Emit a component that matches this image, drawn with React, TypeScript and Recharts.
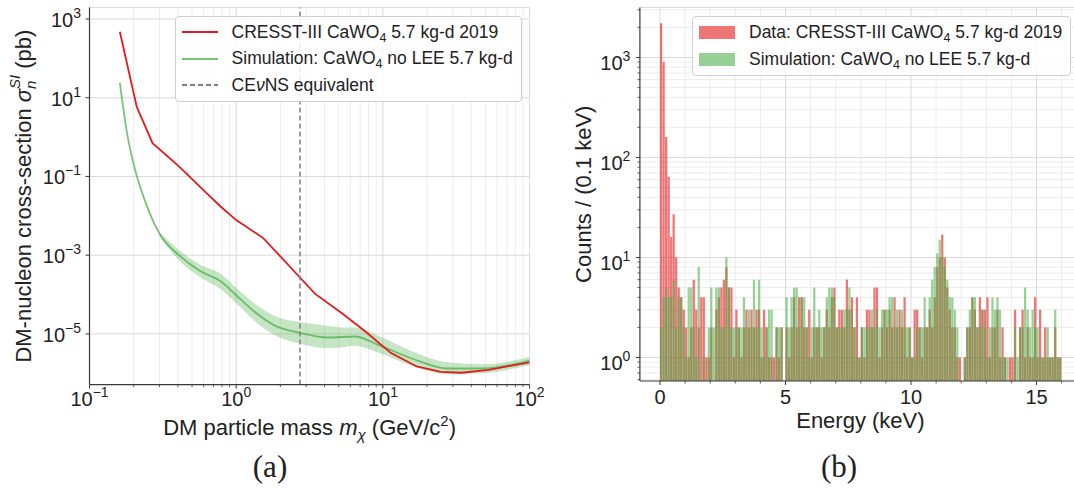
import {
  Area,
  Bar,
  CartesianGrid,
  ComposedChart,
  Label,
  Legend,
  Line,
  ReferenceLine,
  XAxis,
  YAxis,
} from "recharts";

const FONT = "'Liberation Sans', Arial, Helvetica, sans-serif";
const INK = "#222";
const SPINE = "#3a3a3a";
const GRID_MAJOR = "#dadada";
const GRID_MINOR = "#ececec";
const RED = "#e41a1c";
const GREEN = "#4daf4a";

// ---------- (a) exclusion limits ----------
const cresstMass = [0.161, 0.21, 0.269, 0.407, 0.628, 0.779, 1.0, 1.53, 2.73, 3.45, 5.18, 7.56, 11.3, 17.0, 24.8, 34.3, 52.8, 100];
const cresstSigma = [475, 5.85, 0.7, 0.18, 0.0376, 0.0175, 0.0078, 0.00272, 2.67e-4, 1.04e-4, 3.5e-5, 1.17e-5, 3.3e-6, 1.49e-6, 1.08e-6, 1.03e-6, 1.22e-6, 1.9e-6];

const simMass = [0.161, 0.181, 0.207, 0.238, 0.303, 0.407, 0.564, 0.78, 1.02, 1.34, 1.85, 2.73, 4.17, 6.42, 9.38, 16.1, 27.6, 47.4, 100];
const simSigma = [24, 1.16, 0.126, 0.025, 0.0033, 1.0e-3, 4.0e-4, 2.2e-4, 8.9e-5, 3.6e-5, 1.6e-5, 1.06e-5, 8.1e-6, 8.6e-6, 5.2e-6, 2.3e-6, 1.32e-6, 1.32e-6, 2.1e-6];

const bandMass = [0.303, 0.407, 0.564, 0.78, 1.02, 1.34, 1.85, 2.73, 4.17, 5.2, 6.42, 9.38, 16.1, 27.6, 47.4, 100];
const bandLow = [3.0e-3, 7.4e-4, 2.8e-4, 1.4e-4, 5.6e-5, 2.1e-5, 9.1e-6, 5.6e-6, 4.3e-6, 4.5e-6, 5.0e-6, 3.3e-6, 1.5e-6, 9.4e-7, 1.0e-6, 1.6e-6];
const bandHigh = [3.7e-3, 1.35e-3, 5.8e-4, 3.4e-4, 1.38e-4, 5.9e-5, 2.8e-5, 2.0e-5, 1.6e-5, 1.45e-5, 1.45e-5, 8.8e-6, 3.5e-6, 1.9e-6, 1.7e-6, 2.6e-6];

const cevnsMass = 2.72;

const massDomain = [0.1, 100];
const massTicksMajor = [0.1, 1, 10, 100];
const massTicksMinor = [0.2, 0.3, 0.4, 0.5, 0.6, 0.7, 0.8, 0.9, 2, 3, 4, 5, 6, 7, 8, 9, 20, 30, 40, 50, 60, 70, 80, 90];
const sigmaDomain = [5.15e-7, 1950];
const sigmaTicks = [1e-5, 1e-3, 1e-1, 1e1, 1e3];

// ---------- (b) energy spectrum, 0.1 keV bins from 0 to 16 keV ----------
const binWidth = 0.1;
const countsData = [
  2200, 900, 160, 64, 16, 27, 10, 5, 4, 3,
  2, 1, 2, 6, 3, 2, 4, 4, 1, 1,
  2, 0, 3, 4, 5, 6, 8, 5, 5, 1,
  3, 2, 1, 2, 3, 2, 3, 2, 3, 3,
  1, 3, 2, 1, 1, 1, 2, 1, 2, 0,
  2, 1, 2, 4, 2, 4, 4, 2, 2, 3,
  1, 2, 2, 2, 1, 2, 3, 2, 4, 5,
  2, 3, 3, 2, 6, 3, 4, 2, 4, 1,
  2, 1, 3, 3, 2, 5, 5, 1, 2, 3,
  2, 3, 2, 4, 2, 3, 2, 4, 1, 2,
  1, 3, 3, 2, 1, 2, 2, 3, 2, 4,
  8, 10, 17, 10, 5, 3, 2, 2, 1, 1,
  0, 1, 2, 2, 4, 3, 2, 4, 3, 3,
  4, 1, 2, 2, 3, 1, 2, 1, 0, 1,
  1, 3, 0, 2, 3, 1, 2, 1, 1, 4,
  1, 3, 1, 2, 1, 1, 1, 2, 1, 1,
];
const countsSim = [
  2, 4, 5, 4, 4, 6, 2, 4, 4, 2,
  1, 5, 5, 2, 1, 8, 0, 1, 0, 2,
  5, 2, 5, 5, 2, 2, 10, 5, 2, 2,
  2, 2, 2, 4, 2, 3, 2, 6, 2, 6,
  2, 1, 2, 3, 3, 0, 2, 2, 2, 0,
  4, 2, 4, 5, 5, 2, 4, 4, 2, 1,
  2, 5, 2, 3, 2, 2, 4, 5, 5, 4,
  2, 2, 2, 3, 3, 5, 3, 2, 1, 1,
  2, 2, 2, 2, 3, 2, 3, 2, 3, 3,
  3, 4, 4, 2, 3, 2, 3, 2, 2, 2,
  1, 1, 2, 2, 2, 4, 2, 4, 6, 8,
  11, 15, 10, 8, 6, 4, 4, 3, 2, 0,
  0, 1, 2, 3, 4, 4, 2, 2, 3, 2,
  1, 2, 4, 3, 4, 3, 1, 1, 1, 0,
  0, 2, 1, 2, 2, 5, 3, 2, 3, 2,
  2, 1, 1, 1, 2, 1, 1, 3, 1, 1,
];

const energyDomain = [-0.8, 16.8];
const energyTicksMajor = [0, 5, 10, 15];
const energyTicksMinor = [1, 2, 3, 4, 6, 7, 8, 9, 11, 12, 13, 14, 16];
const countDomain = [0.582, 3160];
const countTicksMajor = [1, 10, 100, 1000];
const countTicksMinor = [0.6, 0.7, 0.8, 0.9, 2, 3, 4, 5, 6, 7, 8, 9, 20, 30, 40, 50, 60, 70, 80, 90, 200, 300, 400, 500, 600, 700, 800, 900, 2000, 3000];

// ---------- helpers ----------
const isIn = (list: number[], v: number) => list.some((m) => Math.abs(m - v) <= Math.abs(m) * 1e-9);
const expText = (v: number) => {
  const e = Math.round(Math.log10(v));
  return e < 0 ? "\u2212" + Math.abs(e) : String(e);
};

function PowTen({ x, y, value, anchor }: { x: number; y: number; value: number; anchor: "middle" | "end" }) {
  return (
    <text x={x} y={y} textAnchor={anchor} fontFamily={FONT} fontSize={20} fill={INK}>
      <tspan>10</tspan>
      <tspan dy={-9} fontSize={14}>
        {expText(value)}
      </tspan>
    </text>
  );
}

function makeBottomTick(majors: number[], logLabels: boolean, labelDy: number) {
  return function BottomTick({ x, y, payload }: any) {
    const v = Number(payload?.value);
    const major = isIn(majors, v);
    return (
      <g>
        <line x1={x} x2={x} y1={y} y2={y + (major ? 4 : 2.5)} stroke={SPINE} strokeWidth={major ? 1 : 0.8} />
        {major &&
          (logLabels ? (
            <PowTen x={x} y={y + labelDy} value={v} anchor="middle" />
          ) : (
            <text x={x} y={y + labelDy} textAnchor="middle" fontFamily={FONT} fontSize={20} fill={INK}>
              {v}
            </text>
          ))}
      </g>
    );
  };
}

function makeLeftTick(majors: number[], gap: number, labelDy: number) {
  return function LeftTick({ x, y, payload }: any) {
    const v = Number(payload?.value);
    const major = isIn(majors, v);
    return (
      <g>
        <line x1={x} x2={x - (major ? 4 : 2.5)} y1={y} y2={y} stroke={SPINE} strokeWidth={major ? 1 : 0.8} />
        {major && <PowTen x={x - gap} y={y + labelDy} value={v} anchor="end" />}
      </g>
    );
  };
}

type LegendRow = { key: string; swatch: (k: string) => any; text: any };

function makeLegend(rows: LegendRow[], rowHeight: number) {
  return function ChartLegend() {
    return (
      <div
        style={{
          border: "1px solid #cfcfcf",
          borderRadius: 4,
          background: "rgba(255,255,255,0.85)",
          padding: "2px 8px 2px 6px",
          fontFamily: FONT,
          fontSize: 17.5,
          color: INK,
          whiteSpace: "nowrap",
        }}
      >
        {rows.map((r) => (
          <div key={r.key} style={{ display: "flex", alignItems: "center", height: rowHeight }}>
            {r.swatch(r.key)}
            <span style={{ marginLeft: 14 }}>{r.text}</span>
          </div>
        ))}
      </div>
    );
  };
}

const Sub4 = () => <span style={{ fontSize: 12.5, position: "relative", top: 4 }}>4</span>;

const lineSwatch = (color: string, opacity: number, dash?: string) => () =>
  (
    <svg width={36} height={10}>
      <line x1={0} x2={36} y1={5} y2={5} stroke={color} strokeOpacity={opacity} strokeWidth={1.8} strokeDasharray={dash} />
    </svg>
  );

const patchSwatch = (color: string, opacity: number) => () =>
  <div style={{ width: 36, height: 13, background: color, opacity }} />;

// ---------- (a) ----------
const A_W = 560;
const A_H = 450;
const A_PLOT = { left: 89.5, top: 7.6, right: 529.6, bottom: 384.6 };
const TITLE_SIZE = 22;

function LimitChart() {
  const cresstRows = cresstMass.map((m, i) => ({ m, v: cresstSigma[i] }));
  const simRows = simMass.map((m, i) => ({ m, v: simSigma[i] }));
  const bandRows = bandMass.map((m, i) => ({ m, band: [bandLow[i], bandHigh[i]] }));

  const legend = makeLegend(
    [
      {
        key: "cresst",
        swatch: lineSwatch(RED, 1),
        text: (
          <>
            CRESST-III CaWO<Sub4 /> 5.7 kg-d 2019
          </>
        ),
      },
      {
        key: "sim",
        swatch: lineSwatch(GREEN, 0.75),
        text: (
          <>
            Simulation: CaWO<Sub4 /> no LEE 5.7 kg-d
          </>
        ),
      },
      {
        key: "cevns",
        swatch: lineSwatch("#7f7f7f", 1, "5 3"),
        text: (
          <>
            CE<i>ν</i>NS equivalent
          </>
        ),
      },
    ],
    26.5
  );

  const yTitle = ({ viewBox }: any) => {
    const cx = viewBox.x + 31;
    const cy = viewBox.y + viewBox.height / 2;
    return (
      <text x={cx} y={cy} transform={`rotate(-90, ${cx}, ${cy})`} textAnchor="middle" fontFamily={FONT} fontSize={TITLE_SIZE} fill={INK}>
        DM-nucleon cross-section <tspan fontStyle="italic">σ</tspan>
        <tspan fontStyle="italic" fontSize={15} dy={5}>n</tspan>
        <tspan fontStyle="italic" fontSize={15} dx={-8.5} dy={-15.5}>SI</tspan>
        <tspan dy={10.5}> (pb)</tspan>
      </text>
    );
  };

  const xTitle = ({ viewBox }: any) => (
    <text x={viewBox.x + viewBox.width / 2} y={A_PLOT.bottom + 50} textAnchor="middle" fontFamily={FONT} fontSize={TITLE_SIZE} fill={INK}>
      DM particle mass <tspan fontStyle="italic">m</tspan>
      <tspan fontStyle="italic" fontSize={15} dy={5}>χ</tspan>
      <tspan dy={-5}> (GeV/c</tspan>
      <tspan fontSize={15} dy={-9}>2</tspan>
      <tspan dy={9}>)</tspan>
    </text>
  );

  return (
    <ComposedChart
      width={A_W}
      height={A_H}
      margin={{ top: A_PLOT.top, right: A_W - A_PLOT.right, bottom: 0, left: 0 }}
    >
      <CartesianGrid horizontal={false} verticalValues={massTicksMinor} stroke={GRID_MINOR} />
      <CartesianGrid
        horizontalValues={[...sigmaTicks, sigmaDomain[1]]}
        verticalValues={massTicksMajor}
        stroke={GRID_MAJOR}
      />
      <XAxis
        type="number"
        dataKey="m"
        scale="log"
        domain={massDomain}
        allowDataOverflow
        ticks={[...massTicksMajor, ...massTicksMinor]}
        interval={0}
        tick={makeBottomTick(massTicksMajor, true, 21)}
        tickLine={false}
        tickSize={0}
        tickMargin={0}
        height={A_H - A_PLOT.bottom}
        axisLine={{ stroke: SPINE, strokeWidth: 1.2 }}
      >
        <Label content={xTitle} />
      </XAxis>
      <YAxis
        type="number"
        scale="log"
        domain={sigmaDomain}
        allowDataOverflow
        ticks={sigmaTicks}
        interval={0}
        tick={makeLeftTick(sigmaTicks, 8.5, 8)}
        tickLine={false}
        tickSize={0}
        tickMargin={0}
        width={A_PLOT.left}
        axisLine={{ stroke: SPINE, strokeWidth: 1.2 }}
      >
        <Label content={yTitle} />
      </YAxis>
      <Area
        data={bandRows}
        dataKey="band"
        type="monotone"
        fill={GREEN}
        fillOpacity={0.32}
        stroke="none"
        legendType="none"
        isAnimationActive={false}
      />
      <Line data={simRows} dataKey="v" type="monotone" stroke={GREEN} strokeOpacity={0.75} strokeWidth={1.8} dot={false} isAnimationActive={false} />
      <Line data={cresstRows} dataKey="v" type="linear" stroke={RED} strokeWidth={1.8} dot={false} isAnimationActive={false} />
      <ReferenceLine x={cevnsMass} stroke="#7f7f7f" strokeDasharray="5 3" strokeWidth={1.5} />
      <Legend
        content={legend}
        layout="horizontal"
        verticalAlign="middle"
        align="center"
        wrapperStyle={{ left: 174.6, top: 16, width: "auto", height: "auto" }}
      />
    </ComposedChart>
  );
}

// ---------- (b) ----------
const B_X = 540;
const B_W = 560;
const B_H = 450;
const B_PLOT = { left: 99.9, top: 7.5, right: 541.7, bottom: 381 };

function SpectrumChart() {
  const rows = countsData.map((c, i) => ({
    e: (i + 0.5) * binWidth,
    data: c > 0 ? c : null,
    sim: countsSim[i] > 0 ? countsSim[i] : null,
  }));
  const plotWidth = B_PLOT.right - B_PLOT.left;
  const barWidth = (plotWidth * binWidth) / (energyDomain[1] - energyDomain[0]);

  const legend = makeLegend(
    [
      {
        key: "data",
        swatch: patchSwatch(RED, 0.6),
        text: (
          <>
            Data: CRESST-III CaWO<Sub4 /> 5.7 kg-d 2019
          </>
        ),
      },
      {
        key: "sim",
        swatch: patchSwatch(GREEN, 0.58),
        text: (
          <>
            Simulation: CaWO<Sub4 /> no LEE 5.7 kg-d
          </>
        ),
      },
    ],
    27
  );

  const yTitle = ({ viewBox }: any) => {
    const cx = viewBox.x + 51;
    const cy = viewBox.y + viewBox.height / 2;
    return (
      <text x={cx} y={cy} transform={`rotate(-90, ${cx}, ${cy})`} textAnchor="middle" fontFamily={FONT} fontSize={TITLE_SIZE} fill={INK}>
        Counts / (0.1 keV)
      </text>
    );
  };

  const xTitle = ({ viewBox }: any) => (
    <text x={viewBox.x + 220.5} y={B_PLOT.bottom + 46.5} textAnchor="middle" fontFamily={FONT} fontSize={TITLE_SIZE} fill={INK}>
      Energy (keV)
    </text>
  );

  return (
    <ComposedChart
      width={B_W}
      height={B_H}
      data={rows}
      barCategoryGap={0}
      barGap={0}
      margin={{ top: B_PLOT.top, right: B_W - B_PLOT.right, bottom: 0, left: 0 }}
    >
      <CartesianGrid horizontalValues={countTicksMinor} verticalValues={energyTicksMinor} stroke={GRID_MINOR} />
      <CartesianGrid
        horizontalValues={[...countTicksMajor, countDomain[1]]}
        verticalValues={energyTicksMajor}
        stroke={GRID_MAJOR}
      />
      <XAxis
        type="number"
        dataKey="e"
        domain={energyDomain}
        allowDataOverflow
        ticks={[...energyTicksMajor, ...energyTicksMinor]}
        interval={0}
        tick={makeBottomTick(energyTicksMajor, false, 22.5)}
        tickLine={false}
        tickSize={0}
        tickMargin={0}
        height={B_H - B_PLOT.bottom}
        axisLine={{ stroke: SPINE, strokeWidth: 1.2 }}
      >
        <Label content={xTitle} />
      </XAxis>
      <XAxis xAxisId="sim" type="number" dataKey="e" domain={energyDomain} allowDataOverflow hide />
      <YAxis
        type="number"
        scale="log"
        domain={countDomain}
        allowDataOverflow
        ticks={[...countTicksMajor, ...countTicksMinor]}
        interval={0}
        tick={makeLeftTick(countTicksMajor, 9.5, 13)}
        tickLine={false}
        tickSize={0}
        tickMargin={0}
        width={B_PLOT.left}
        axisLine={{ stroke: SPINE, strokeWidth: 1.2 }}
      >
        <Label content={yTitle} />
      </YAxis>
      <Bar dataKey="data" fill={RED} fillOpacity={0.6} barSize={barWidth} isAnimationActive={false} />
      <Bar xAxisId="sim" dataKey="sim" fill={GREEN} fillOpacity={0.58} barSize={barWidth} isAnimationActive={false} />
      <Legend
        content={legend}
        layout="horizontal"
        verticalAlign="middle"
        align="center"
        wrapperStyle={{ left: 152, top: 16, width: "auto", height: "auto" }}
      />
    </ComposedChart>
  );
}

const captionStyle = {
  position: "absolute" as const,
  top: 449,
  width: 80,
  textAlign: "center" as const,
  fontFamily: "'Liberation Serif', 'DejaVu Serif', serif",
  fontSize: 31,
  color: INK,
  lineHeight: "36px",
};

export default function App() {
  return (
    <div
      style={{
        position: "fixed",
        left: 0,
        top: 0,
        width: 1074,
        height: 488,
        overflow: "hidden",
        background: "#fff",
      }}
    >
      <div style={{ position: "absolute", left: 0, top: 0 }}>
        <LimitChart />
      </div>
      <div style={{ position: "absolute", left: B_X, top: 0 }}>
        <SpectrumChart />
      </div>
      <div style={{ ...captionStyle, left: 270 - 40 }}>(a)</div>
      <div style={{ ...captionStyle, left: 839 - 40 }}>(b)</div>
    </div>
  );
}
